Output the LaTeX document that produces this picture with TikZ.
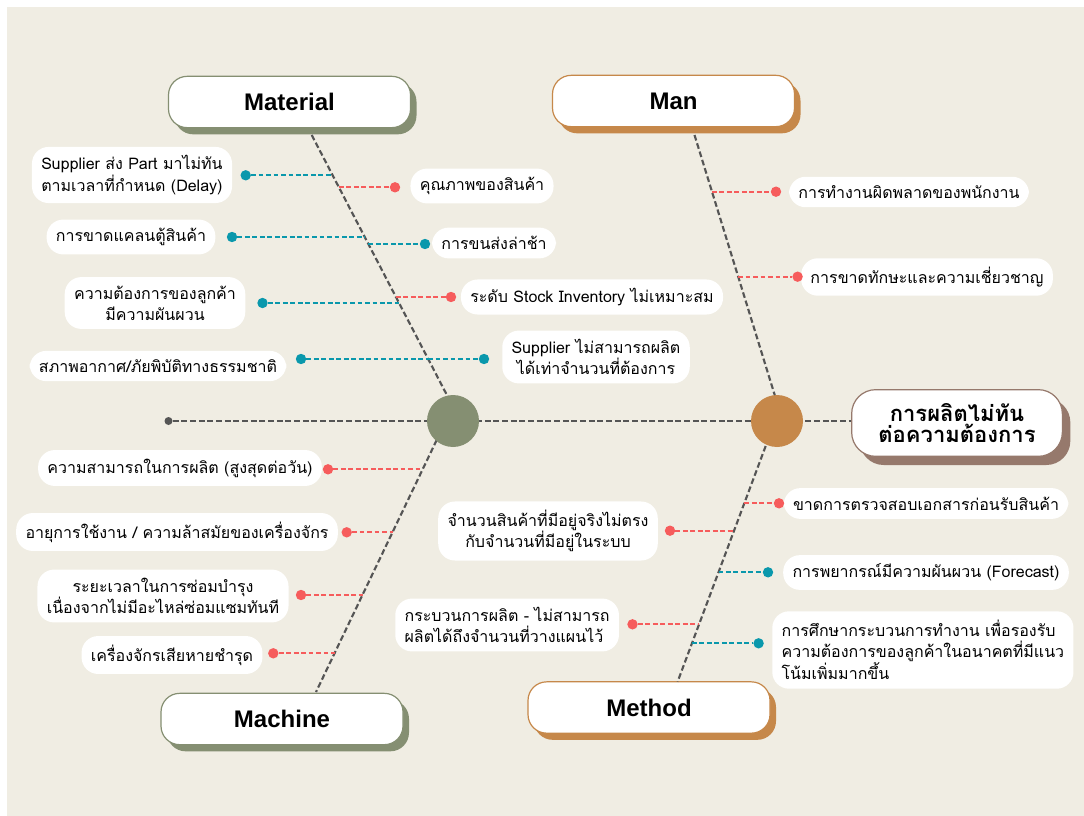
\documentclass[tikz,border=0pt]{standalone}
\usepackage{fontspec}
\setmainfont[Script=Thai]{Loma}
\newfontfamily\headfont{Liberation Sans}
\usetikzlibrary{shadows}

\definecolor{paper}{RGB}{240,237,227}
\definecolor{sage}{RGB}{133,143,114}
\definecolor{ochre}{RGB}{198,136,74}
\definecolor{mocha}{RGB}{150,121,108}
\definecolor{tealdot}{RGB}{10,152,172}
\definecolor{coral}{RGB}{246,92,92}
\definecolor{bonegray}{RGB}{85,85,85}

\tikzset{
  bone/.style={draw=bonegray, line width=1.6pt, dash pattern=on 4.3pt off 2.2pt},
  twig/.style={draw=#1, line width=1.5pt, dash pattern=on 3.6pt off 2pt},
  knob/.style={circle, fill=#1, minimum size=7.8pt, inner sep=0pt},
  cause/.style={fill=white, rounded corners=12.5pt, inner xsep=7pt, inner ysep=6.5pt,
    align=center, font=\fontsize{12}{15.8}\selectfont},
  catbox/.style={draw=#1, line width=0.9pt, fill=white, rounded corners=14pt,
    minimum width=181.5pt, minimum height=38.5pt,
    font=\headfont\bfseries\fontsize{18}{20}\selectfont,
    general shadow={fill=#1, shadow xshift=4.5pt, shadow yshift=-5pt}},
  hub/.style={circle, fill=#1, minimum size=39pt, inner sep=0pt},
}

\begin{document}
\begin{tikzpicture}[x=0.75pt, y=-0.75pt]
  % page and backdrop
  \useasboundingbox (0,0) rectangle (1084,816);
  \fill[white] (0,0) rectangle (1084,816);
  \fill[paper] (7,7) rectangle (1084,816);

  % category headers
  \node[catbox=sage]  (mat) at (289.5,102) {Material};
  \node[catbox=ochre] (man) at (673.5,101) {Man};
  \node[catbox=sage]  (mac) at (282,719)   {Machine};
  \node[catbox=ochre] (met) at (649,707.5) {Method};

  % effect box
  \node[draw=mocha, line width=0.9pt, fill=white, rounded corners=18pt,
        minimum width=158pt, minimum height=50pt, align=center,
        font=\bfseries\fontsize{16.5}{16}\selectfont,
        general shadow={fill=mocha, shadow xshift=6pt, shadow yshift=-6.5pt}]
        (eff) at (957,423) {การผลิตไม่ทัน\\ต่อความต้องการ};

  % spine
  \node[knob=bonegray, minimum size=6pt] (tail) at (168.5,421) {};
  \coordinate (gc) at (453,421);
  \coordinate (oc) at (777,421);
  \draw[bone] (tail) -- (gc) -- (oc) -- (oc -| eff.west);

  % bones
  \coordinate (mt) at (311.7,135);  \coordinate (mh) at (447.4,396);
  \coordinate (ct) at (436.7,440);  \coordinate (cb) at (316,692);
  \coordinate (nt) at (694.5,135);  \coordinate (nh) at (775,396);
  \coordinate (et) at (765.7,446);  \coordinate (eb) at (677.6,681.7);
  \draw[bone] (mt) -- (mh);
  \draw[bone] (ct) -- (cb);
  \draw[bone] (nt) -- (nh);
  \draw[bone] (et) -- (eb);

  % hubs
  \node[hub=sage]  (gh) at (gc) {};
  \node[hub=ochre] (oh) at (oc) {};

  % ---- Material causes
  \node[cause, align=left] (c1) at (132,175) {Supplier ส่ง Part มาไม่ทัน\\ตามเวลาที่กำหนด (Delay)};
  \node[cause] (c2) at (482,186) {คุณภาพของสินค้า};
  \node[cause] (c3) at (131,237) {การขาดแคลนตู้สินค้า};
  \node[cause] (c4) at (494,243) {การขนส่งล่าช้า};
  \node[cause] (c5) at (592,297) {ระดับ Stock Inventory ไม่เหมาะสม};
  \node[cause] (c6) at (155,303) {ความต้องการของลูกค้า\\มีความผันผวน};
  \node[cause] (c7) at (596,357) {Supplier ไม่สามารถผลิต\\ได้เท่าจำนวนที่ต้องการ};
  \node[cause] (c8) at (158,366) {สภาพอากาศ/ภัยพิบัติทางธรรมชาติ};

  \coordinate (j1) at (332.7,175.3);
  \coordinate (j2) at (338.9,187.3);
  \coordinate (j3) at (364.7,237);
  \coordinate (j4) at (368.4,244);
  \coordinate (j5) at (395.9,297);
  \coordinate (j6) at (399.1,303);
  \coordinate (j7) at (428.2,359);
  \coordinate (j8) at (428.2,359);

  \node[knob=tealdot] (d1) at (245.7,175.3) {};
  \node[knob=coral]   (d2) at (395,187.3) {};
  \node[knob=tealdot] (d3) at (232,237) {};
  \node[knob=tealdot] (d4) at (425,244) {};
  \node[knob=coral]   (d5) at (451,297) {};
  \node[knob=tealdot] (d6) at (262.5,303) {};
  \node[knob=tealdot] (d7) at (484,359) {};
  \node[knob=tealdot] (d8) at (301,359) {};

  \draw[twig=tealdot] (d1) -- (j1);
  \draw[twig=coral]   (j2) -- (d2);
  \draw[twig=tealdot] (d3) -- (j3);
  \draw[twig=tealdot] (j4) -- (d4);
  \draw[twig=coral]   (j5) -- (d5);
  \draw[twig=tealdot] (d6) -- (j6);
  \draw[twig=tealdot] (j7) -- (d7);
  \draw[twig=tealdot] (d8) -- (j8);

  % ---- Machine causes
  \node[cause] (c9)  at (180,468)   {ความสามารถในการผลิต (สูงสุดต่อวัน)};
  \node[cause] (c10) at (177,532)   {อายุการใช้งาน / ความล้าสมัยของเครื่องจักร};
  \node[cause] (c11) at (163,596)   {ระยะเวลาในการซ่อมบำรุง\\เนื่องจากไม่มีอะไหล่ซ่อมแซมทันที};
  \node[cause] (c12) at (172,655)   {เครื่องจักรเสียหายชำรุด};

  \coordinate (j9)  at (422.7,469.3);
  \coordinate (j10) at (392.5,532.3);
  \coordinate (j11) at (362.5,595);
  \coordinate (j12) at (334.6,653.3);

  \node[knob=coral] (d9)  at (328,469.3) {};
  \node[knob=coral] (d10) at (346.7,532.3) {};
  \node[knob=coral] (d11) at (301,595) {};
  \node[knob=coral] (d12) at (273.3,653.3) {};

  \draw[twig=coral] (d9)  -- (j9);
  \draw[twig=coral] (d10) -- (j10);
  \draw[twig=coral] (d11) -- (j11);
  \draw[twig=coral] (d12) -- (j12);

  % ---- Man causes
  \node[cause] (c13) at (909,192) {การทำงานผิดพลาดของพนักงาน};
  \node[cause] (c14) at (927,277) {การขาดทักษะและความเชี่ยวชาญ};

  \coordinate (j13) at (712,191.7);
  \coordinate (j14) at (738.2,276.7);

  \node[knob=coral] (d13) at (776,191.7) {};
  \node[knob=coral] (d14) at (797.6,276.7) {};

  \draw[twig=coral] (j13) -- (d13);
  \draw[twig=coral] (j14) -- (d14);

  % ---- Method causes
  \node[cause] (c15) at (926,503.5) {ขาดการตรวจสอบเอกสารก่อนรับสินค้า};
  \node[cause] (c16) at (548,531)   {จำนวนสินค้าที่มีอยู่จริงไม่ตรง\\กับจำนวนที่มีอยู่ในระบบ};
  \node[cause] (c17) at (926,572.5) {การพยากรณ์มีความผันผวน (Forecast)};
  \node[cause, align=left, anchor=west] (c18) at (395,625)
        {กระบวนการผลิต - ไม่สามารถ\\ผลิตได้ถึงจำนวนที่วางแผนไว้};
  \node[cause, align=left, anchor=west] (c19) at (772,650)
        {การศึกษากระบวนการทำงาน เพื่อรองรับ\\ความต้องการของลูกค้าในอนาคตที่มีแนว\\โน้มเพิ่มมากขึ้น};

  \coordinate (j15) at (744.3,503.3);
  \coordinate (j16) at (734.0,530.7);
  \coordinate (j17) at (718.5,572.3);
  \coordinate (j18) at (699.0,624.3);
  \coordinate (j19) at (691.9,643.3);

  \node[knob=coral]   (d15) at (779,503.3) {};
  \node[knob=coral]   (d16) at (670,530.7) {};
  \node[knob=tealdot] (d17) at (768,572.3) {};
  \node[knob=coral]   (d18) at (632.5,624.3) {};
  \node[knob=tealdot] (d19) at (758.6,643.3) {};

  \draw[twig=coral]   (j15) -- (d15);
  \draw[twig=coral]   (d16) -- (j16);
  \draw[twig=tealdot] (j17) -- (d17);
  \draw[twig=coral]   (d18) -- (j18);
  \draw[twig=tealdot] (j19) -- (d19);
\end{tikzpicture}
\end{document}
